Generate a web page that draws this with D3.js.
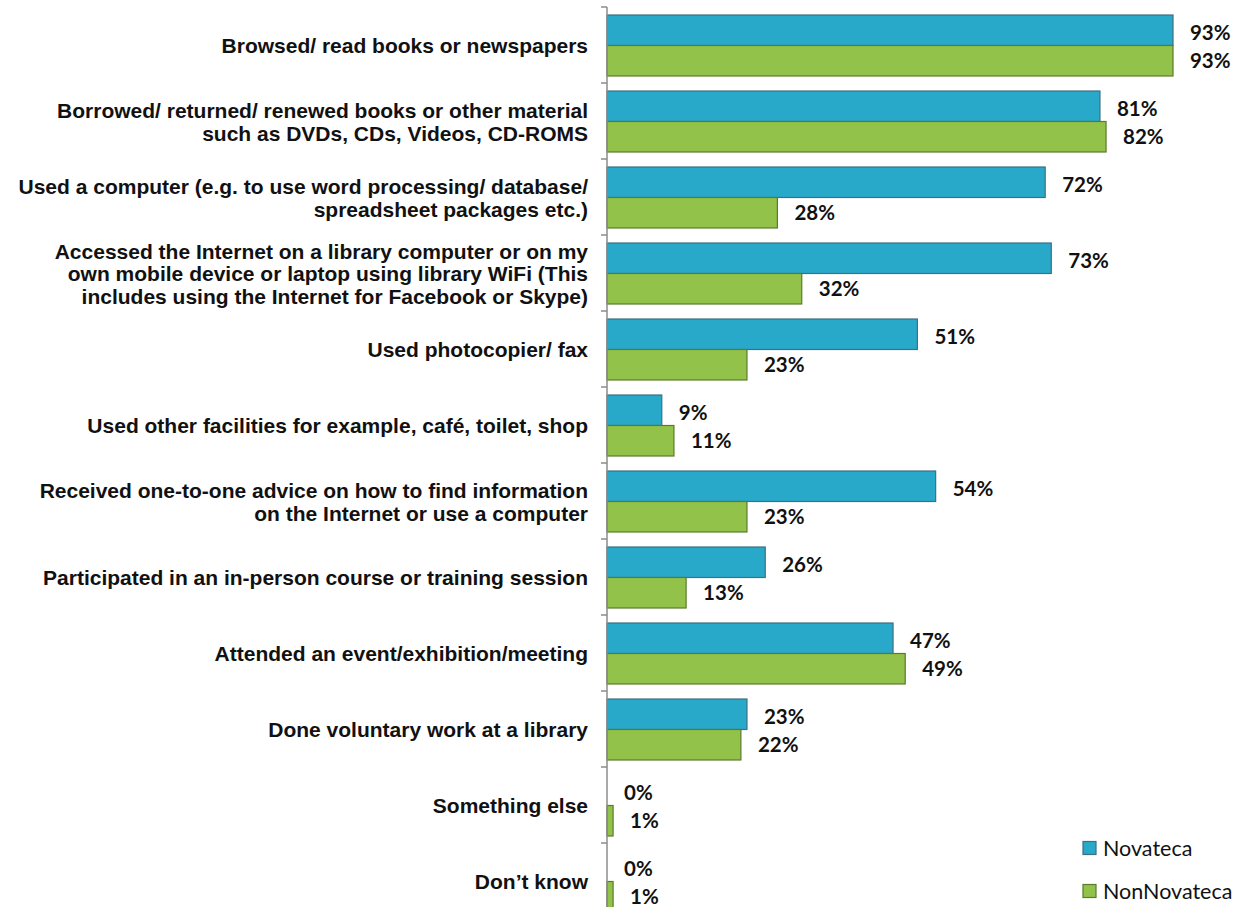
<!DOCTYPE html>
<html><head><meta charset="utf-8">
<script src="https://cdnjs.cloudflare.com/ajax/libs/d3/7.8.5/d3.min.js"></script>
<style>body{margin:0;background:#fff}svg{display:block}</style>
</head><body>
<script>
const categories = [
  ["Browsed/ read books or newspapers"],
  ["Borrowed/ returned/ renewed books or other material","such as DVDs, CDs, Videos, CD-ROMS"],
  ["Used a computer (e.g. to use word processing/ database/","spreadsheet packages etc.)"],
  ["Accessed the Internet on a library computer or on my","own mobile device or laptop using library WiFi (This","includes using the Internet for Facebook or Skype)"],
  ["Used photocopier/ fax"],
  ["Used other facilities for example, café, toilet, shop"],
  ["Received one-to-one advice on how to find information","on the Internet or use a computer"],
  ["Participated in an in-person course or training session"],
  ["Attended an event/exhibition/meeting"],
  ["Done voluntary work at a library"],
  ["Something else"],
  ["Don’t know"]
];
const seriesNames = ["Novateca","NonNovateca"];
const novateca    = [93, 81, 72, 73, 51, 9, 54, 26, 47, 23, 0, 0];
const nonNovateca = [93, 82, 28, 32, 23, 11, 23, 13, 49, 22, 1, 1];

const W = 1248, H = 907;
const svg = d3.select("body").append("svg").attr("width", W).attr("height", H);

const x0 = 607;
const x = d3.scaleLinear().domain([0, 100]).range([x0, 1215.6]);
const y = d3.scaleBand().domain(d3.range(categories.length)).range([7, 7 + 76*12]);
const sub = d3.scaleBand().domain([0,1]).range([8, 69]);

const colors = ["#29A9C9", "#93C24A"];
const strokes = ["#3D6F80", "#5B7A2E"];
const series = [novateca, nonNovateca];

series.forEach((vals, s) => {
  svg.append("g").selectAll("rect").data(vals).join("rect")
    .attr("x", x(0))
    .attr("y", (d,i) => y(i) + sub(s))
    .attr("width", d => Math.max(0, x(d) - x(0)))
    .attr("height", sub.bandwidth())
    .attr("fill", colors[s])
    .attr("stroke", strokes[s])
    .attr("stroke-width", 1.2);
  svg.append("g").selectAll("text").data(vals).join("text")
    .attr("x", d => x(d) + 17)
    .attr("y", (d,i) => y(i) + sub(s) + sub.bandwidth()/2 + (s===0 ? 3 : 0))
    .attr("dy", "0.35em")
    .attr("font-family", "Lato, sans-serif")
    .attr("font-weight", "bold")
    .attr("font-size", 20.5)
    .attr("fill", "#111")
    .text(d => d + "%");
});

const axis = svg.append("g");
axis.append("line").attr("x1", x0).attr("x2", x0).attr("y1", y(0)).attr("y2", H)
  .attr("stroke", "#8c8c8c").attr("stroke-width", 1.5);
axis.selectAll("line.tick").data(d3.range(categories.length)).join("line")
  .attr("class","tick")
  .attr("x1", x0 - 6).attr("x2", x0)
  .attr("y1", i => y(i)).attr("y2", i => y(i))
  .attr("stroke", "#8c8c8c").attr("stroke-width", 1.5);

const lh = 22.5;
const cl = svg.append("g");
categories.forEach((lines, i) => {
  const cy = y(i) + y.bandwidth()/2 + 1;
  const t = cl.append("text")
    .attr("text-anchor", "end")
    .attr("font-family", "Liberation Sans, Arial, sans-serif")
    .attr("font-weight", "bold")
    .attr("font-size", 21)
    .attr("fill", "#111");
  lines.forEach((ln, k) => {
    t.append("tspan").attr("x", 588)
      .attr("y", cy + (k - (lines.length-1)/2) * lh)
      .attr("dy", "0.35em")
      .text(ln);
  });
});

const lg = svg.append("g");
seriesNames.forEach((n, s) => {
  const ly = 848 + s*43;
  lg.append("rect").attr("x", 1083).attr("y", ly - 6.5).attr("width", 13).attr("height", 13)
    .attr("fill", colors[s]).attr("stroke", strokes[s]).attr("stroke-width", 1.2);
  lg.append("text").attr("x", 1103).attr("y", ly).attr("dy", "0.35em")
    .attr("font-family", "Lato, sans-serif").attr("font-size", 21.5).attr("fill", "#111")
    .text(n);
});
</script>
</body></html>
